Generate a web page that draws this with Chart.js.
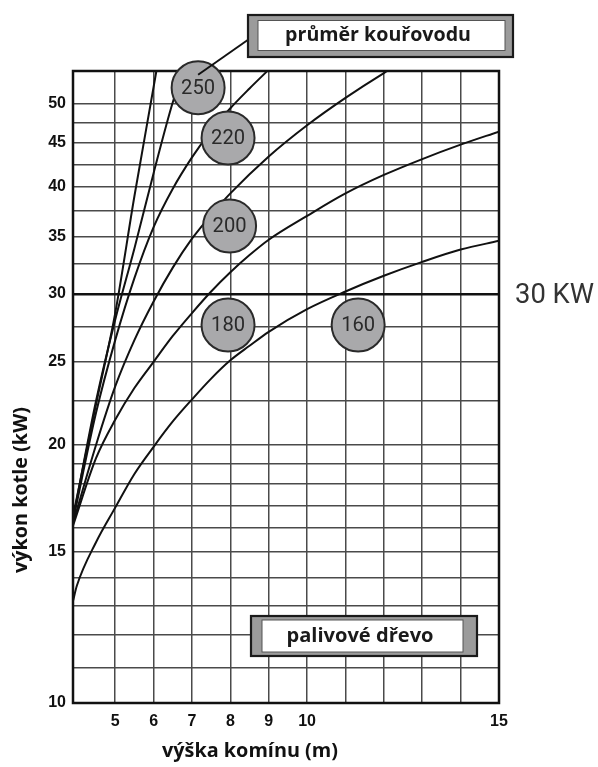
<!DOCTYPE html>
<html><head><meta charset="utf-8">
<script src="https://cdn.jsdelivr.net/npm/chart.js@4.4.1/dist/chart.umd.min.js"></script>
<style>html,body{margin:0;padding:0;background:#fff}canvas{display:block}</style>
</head><body>
<canvas id="c" width="598" height="767"></canvas>
<script>
// ---- data ----
const xTicks = [5,6,7,8,9,10,11,12,13,14,15];
const xTickLabels = [5,6,7,8,9,10,15];
const yGridValues = [10,11,12,13,14,15,16,17,18,19,20,22.5,25,27.5,30,32.5,35,37.5,40,42.5,45,47.5,50];
const yTickLabels = [10,15,20,25,30,35,40,45,50];

const curveA_x = [3.9, 4.5, 5, 5.5, 6, 6.1];
const curveA_y = [16.5, 22.3, 28.5, 39.0, 52.3, 55.5];
const curveB_x = [3.9, 4.5, 5, 5.5, 6, 6.5, 6.8];
const curveB_y = [16.4, 22.5, 28.0, 33.9, 41.5, 50.2, 55.0];
const curveC_x = [3.9, 4.5, 5, 5.5, 6, 6.5, 7, 7.5, 8, 8.5, 9];
const curveC_y = [16.3, 21.8, 26.5, 31.3, 35.9, 39.8, 43.3, 46.5, 49.4, 52.1, 54.8];
const curveD_x = [3.9, 4.5, 5, 5.5, 6, 6.5, 7, 7.5, 8, 9, 10, 11, 12, 12.3];
const curveD_y = [16.2, 20.0, 23.4, 26.5, 29.4, 32.2, 34.8, 37.1, 39.3, 43.4, 47.2, 50.8, 54.3, 55.3];
const curveE_x = [3.9, 4.5, 5, 5.5, 6, 6.5, 7, 7.5, 8, 8.5, 9, 10, 11, 12, 13, 14, 15];
const curveE_y = [16.1, 19.3, 21.4, 23.3, 25.0, 26.8, 28.5, 30.2, 31.8, 33.3, 34.7, 37.0, 39.3, 41.3, 43.1, 44.8, 46.4];
const curveF_x = [3.9, 4, 4.5, 5, 5.5, 6, 6.5, 7, 7.5, 8, 8.5, 9, 10, 11, 12, 13, 14, 15];
const curveF_y = [13.15, 13.7, 15.4, 16.9, 18.5, 19.9, 21.3, 22.6, 23.9, 25.1, 26.1, 27.1, 28.8, 30.2, 31.5, 32.7, 33.8, 34.6];

const diameterLabels = ['250', '220', '200', '180', '160'];
const diameterX = [7.16, 7.94, 7.98, 7.94, 11.33];
const diameterY = [52.2, 45.6, 36.0, 27.6, 27.6];

const referenceKW = 30;
const referenceLabel = '30 KW';
const xTitle = 'výška komínu (m)';
const yTitle = 'výkon kotle (kW)';
const boxTopText = 'průměr kouřovodu';
const boxBottomText = 'palivové dřevo';

// ---- helpers ----
const pts = (xs, ys) => xs.map((x, i) => ({x, y: ys[i]}));
function fitFont(ctx, text, target, weight, family) {
  ctx.font = weight + ' 100px ' + family;
  const w = ctx.measureText(text).width;
  return (100 * target / w).toFixed(2) + 'px';
}
function drawBox(ctx, o, inn, text, tx, ty, tw) {
  ctx.fillStyle = '#9b9b9b';
  ctx.fillRect(o[0], o[1], o[2]-o[0], o[3]-o[1]);
  ctx.fillStyle = '#ffffff';
  ctx.fillRect(inn[0], inn[1], inn[2]-inn[0], inn[3]-inn[1]);
  ctx.strokeStyle = '#555'; ctx.lineWidth = 1;
  ctx.strokeRect(inn[0], inn[1], inn[2]-inn[0], inn[3]-inn[1]);
  ctx.strokeStyle = '#1a1a1a'; ctx.lineWidth = 2.2;
  ctx.strokeRect(o[0], o[1], o[2]-o[0], o[3]-o[1]);
  const fam = '"Open Sans", "Liberation Sans", sans-serif';
  ctx.font = 'bold ' + fitFont(ctx, text, tw, 'bold', fam) + ' ' + fam;
  ctx.fillStyle = '#1a1a1a'; ctx.textAlign = 'center'; ctx.textBaseline = 'middle';
  ctx.fillText(text, tx, ty);
}

const deco = {
  id: 'deco',
  beforeDatasetsDraw(chart) {
    const {ctx, chartArea: a} = chart;
    ctx.save();
    ctx.strokeStyle = '#111'; ctx.lineWidth = 2.5;
    ctx.strokeRect(a.left, a.top, a.right - a.left, a.bottom - a.top);
    ctx.restore();
  },
  afterDatasetsDraw(chart) {
    const {ctx, scales: {x, y}} = chart;
    ctx.save();
    const rfam = 'Roboto, "Liberation Sans", sans-serif';
    ctx.font = fitFont(ctx, '250', 34, 'normal', rfam) + ' ' + rfam;
    ctx.fillStyle = '#2a2a2a'; ctx.textAlign = 'center'; ctx.textBaseline = 'middle';
    diameterLabels.forEach((t, i) => ctx.fillText(t, x.getPixelForValue(diameterX[i]), y.getPixelForValue(diameterY[i]) + 1));
    // leader line from the 250 circle to the box
    const cx = x.getPixelForValue(diameterX[0]), cy = y.getPixelForValue(diameterY[0]);
    ctx.strokeStyle = '#111'; ctx.lineWidth = 2;
    ctx.beginPath(); ctx.moveTo(cx, cy - 13); ctx.lineTo(252, 37); ctx.stroke();
    drawBox(ctx, [248, 15, 513, 57], [258, 20.5, 505, 50.5], boxTopText, 378, 35.5, 186);
    drawBox(ctx, [251, 616, 477, 656], [262, 620, 463, 652], boxBottomText, 360, 636, 147);
    // 30 KW label
    ctx.font = fitFont(ctx, referenceLabel, 79, 'normal', rfam) + ' ' + rfam;
    ctx.fillStyle = '#333'; ctx.textAlign = 'left'; ctx.textBaseline = 'middle';
    ctx.fillText(referenceLabel, 515, y.getPixelForValue(referenceKW) + 2);
    ctx.restore();
  },
  afterDraw(chart) {
    const {ctx} = chart;
    const fam = '"Open Sans", "Liberation Sans", sans-serif';
    ctx.save();
    ctx.fillStyle = '#111';
    ctx.font = 'bold ' + fitFont(ctx, xTitle, 176, 'bold', fam) + ' ' + fam;
    ctx.textAlign = 'center'; ctx.textBaseline = 'alphabetic';
    ctx.fillText(xTitle, 250, 757);
    ctx.translate(21, 490);
    ctx.rotate(-Math.PI / 2);
    ctx.font = 'bold ' + fitFont(ctx, yTitle, 166, 'bold', fam) + ' ' + fam;
    ctx.textBaseline = 'middle';
    ctx.fillText(yTitle, 0, 0);
    ctx.restore();
  }
};

const curveStyle = {borderColor: '#111', borderWidth: 2, pointRadius: 0, cubicInterpolationMode: 'monotone', fill: false};

new Chart(document.getElementById('c'), {
  type: 'line',
  data: {
    datasets: [
      Object.assign({label: 'A', data: pts(curveA_x, curveA_y)}, curveStyle),
      Object.assign({label: 'B', data: pts(curveB_x, curveB_y)}, curveStyle),
      Object.assign({label: 'C', data: pts(curveC_x, curveC_y)}, curveStyle),
      Object.assign({label: 'D', data: pts(curveD_x, curveD_y)}, curveStyle),
      Object.assign({label: 'E', data: pts(curveE_x, curveE_y)}, curveStyle),
      Object.assign({label: 'F', data: pts(curveF_x, curveF_y)}, curveStyle),
      {label: 'průměr', data: pts(diameterX, diameterY), showLine: false, order: -1, clip: false,
       pointRadius: 26.5, pointHoverRadius: 26.5, pointBackgroundColor: '#a9a9ab', pointBorderColor: '#2a2a2a', pointBorderWidth: 2}
    ]
  },
  options: {
    responsive: false, animation: false, devicePixelRatio: 1,
    layout: {padding: {left: 0, right: 99, top: 71, bottom: 0}},
    plugins: {legend: {display: false}, tooltip: {enabled: false}},
    scales: {
      x: {
        type: 'linear', min: 3.9, max: 15,
        afterBuildTicks: s => { s.ticks = xTicks.map(v => ({value: v})); },
        afterFit: s => { s.height = 64; },
        border: {display: false},
        grid: {color: '#4a4a4a', lineWidth: 1.5, drawTicks: false},
        ticks: {autoSkip: false, maxRotation: 0, padding: 9, color: '#111',
          font: {family: '"Liberation Sans", Arial, sans-serif', size: 16, weight: 'bold'},
          callback: v => xTickLabels.includes(v) ? String(v) : ''}
      },
      y: {
        type: 'logarithmic', min: 10, max: 54.6,
        afterBuildTicks: s => { s.ticks = yGridValues.map(v => ({value: v})); },
        afterFit: s => { s.width = 73; },
        border: {display: false},
        grid: {drawTicks: false,
          color: c => (c.tick && c.tick.value === referenceKW) ? '#111' : '#4a4a4a',
          lineWidth: c => (c.tick && c.tick.value === referenceKW) ? 2.6 : 1.5},
        ticks: {autoSkip: false, padding: 7, color: '#111',
          font: {family: '"Liberation Sans", Arial, sans-serif', size: 16, weight: 'bold'},
          callback: v => yTickLabels.includes(v) ? String(v) : ''}
      }
    }
  },
  plugins: [deco]
});
</script>
</body></html>
